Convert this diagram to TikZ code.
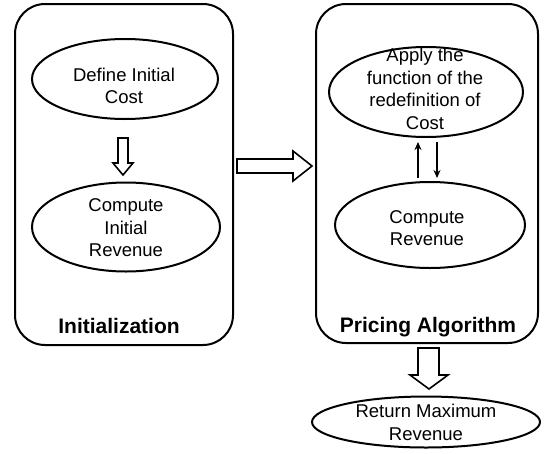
\documentclass[tikz,border=0pt]{standalone}
\usepackage{fontspec}
\setmainfont{Liberation Sans}
\usetikzlibrary{shapes.geometric,arrows.meta}
\begin{document}
\begin{tikzpicture}[x=1pt,y=-1pt,
  box/.style={draw, line width=2pt, rounded corners=30pt, inner sep=0pt},
  ell/.style={draw, ellipse, line width=2pt, inner sep=0pt},
  txt/.style={align=center, font=\fontsize{18.5}{22.5}\selectfont, inner sep=0pt},
  ttl/.style={font=\fontsize{21}{25}\selectfont\bfseries, inner sep=0pt},
  hollow/.style={draw, line width=1.6pt, fill=white, line join=miter},
  thinarrow/.style={draw, line width=1.5pt, -{Stealth[length=8pt,width=7pt]}}]
\useasboundingbox (0,0) rectangle (545,453);
% containers
\node[box, minimum width=218pt, minimum height=341pt] (initbox) at (124,174.5) {};
\node[box, minimum width=222pt, minimum height=339pt] (pricebox) at (427,173.5) {};
\node[ttl] (inittitle) at (119,326) {Initialization};
\node[ttl] (pricetitle) at (428,327) {Pricing Algorithm};
% ellipses
\node[ell, minimum width=186pt, minimum height=80pt] (e1) at (125,79) {};
\node[txt] (t1) at (124,86) {Define Initial\\Cost};
\node[ell, minimum width=188pt, minimum height=89pt] (e2) at (126,227) {};
\node[txt] (t2) at (126,228) {Compute\\Initial\\Revenue};
\node[ell, minimum width=194pt, minimum height=90pt] (ea) at (426,92) {};
\node[txt] (ta) at (425,89) {Apply the\\function of the\\redefinition of\\Cost};
\node[ell, minimum width=190pt, minimum height=86pt] (eb) at (430,225) {};
\node[txt] (tb) at (427,228) {Compute\\Revenue};
\node[ell, minimum width=228pt, minimum height=51pt] (ec) at (426,422) {};
\node[txt] (tc) at (426,422.5) {Return Maximum\\Revenue};
% hollow block arrows
\draw[hollow] (118,138) -- (128,138) -- (128,163) -- (133,163) -- (123,175) -- (113,163) -- (118,163) -- cycle;
\draw[hollow] (237,159) -- (293,159) -- (293,151) -- (312,166) -- (293,181) -- (293,173) -- (237,173) -- cycle;
\draw[hollow] (418,348) -- (439,348) -- (439,375) -- (448,375) -- (429,389) -- (410,375) -- (418,375) -- cycle;
% thin arrows between ellipses
\coordinate (ub) at (418,178);
\coordinate (ut) at (418,142);
\coordinate (dt) at (437,142);
\coordinate (db) at (437,178);
\draw[thinarrow] (ub) -- (ut);
\draw[thinarrow] (dt) -- (db);
\end{tikzpicture}
\end{document}
